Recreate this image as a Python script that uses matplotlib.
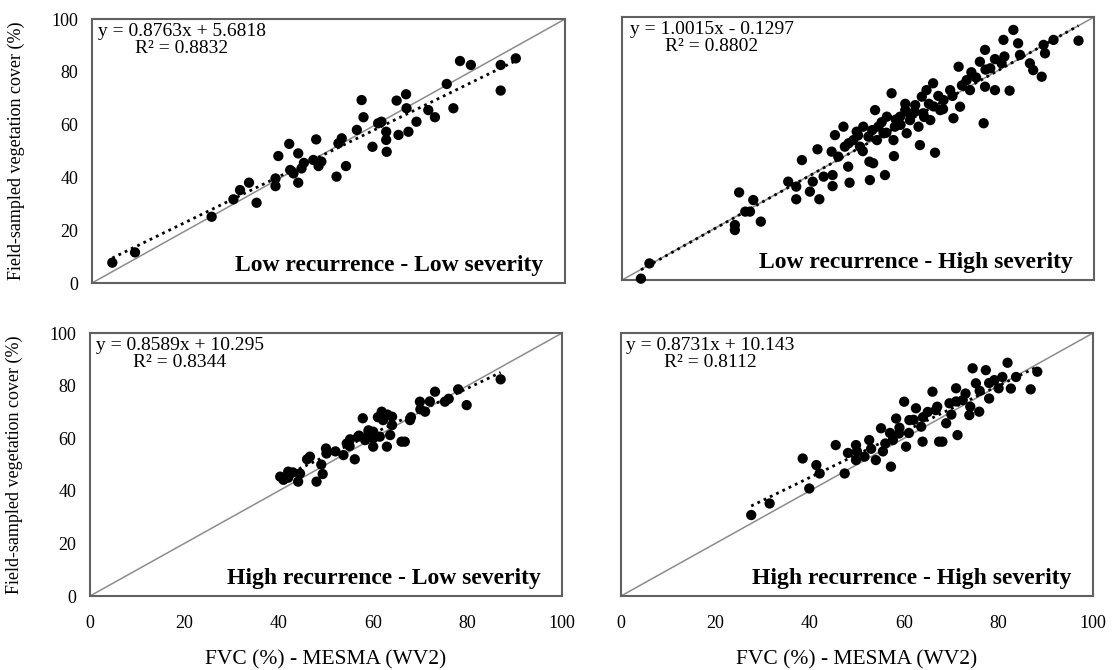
import numpy as np
import matplotlib
matplotlib.use("Agg")
import matplotlib.pyplot as plt

plt.rcParams['font.family'] = ['Liberation Serif', 'DejaVu Serif']

# FVC from MESMA (x) vs field-sampled cover (y), one pair of lists per plot type
lrls_x = [4.3, 9.1, 25.3, 29.9, 31.3, 33.2, 34.8, 38.8, 38.8, 39.4, 41.7, 41.9, 42.6, 43.6,
          43.6, 44.3, 46.8, 47.4, 47.9, 51.7, 52.1, 52.8, 53.7, 56.0, 57.0, 57.4, 59.3, 60.5,
          61.2, 62.2, 62.2, 62.3, 64.4, 64.8, 66.4, 66.5, 66.9, 68.6, 71.1, 72.5, 75.0, 76.4,
          77.8, 80.1, 86.4, 86.4, 89.6, 44.8, 48.5]
lrls_y = [7.7, 11.6, 25.1, 31.7, 35.2, 38.0, 30.4, 39.6, 36.7, 48.1, 52.7, 42.8, 41.5, 49.1,
          38.0, 43.4, 46.6, 54.4, 44.3, 40.3, 52.9, 54.8, 44.3, 58.0, 69.3, 62.8, 51.6, 60.5,
          61.1, 57.3, 54.2, 49.7, 69.1, 56.1, 71.5, 66.2, 57.3, 61.1, 65.5, 62.8, 75.4, 66.2,
          84.1, 82.6, 82.6, 72.9, 85.1, 45.5, 46.0]

lrhs_x = [4.0, 5.8, 23.9, 23.9, 24.8, 26.1, 27.1, 27.8, 29.4, 35.2, 36.9, 36.9, 38.1, 39.8,
          40.4, 41.4, 41.8, 42.7, 44.6, 44.6, 45.1, 44.4, 45.8, 46.9, 47.2, 47.9, 48.2, 49.0,
          49.7, 50.4, 51.1, 52.2, 52.4, 52.5, 53.2, 53.6, 54.0, 54.3, 55.4, 55.7, 56.1, 57.1,
          57.5, 57.6, 57.8, 58.9, 60.0, 60.3, 61.0, 62.1, 62.8, 63.1, 63.5, 63.8, 64.5, 65.3,
          65.9, 66.3, 67.4, 68.1, 69.5, 70.2, 71.3, 71.6, 73.0, 73.7, 75.8, 76.6, 76.9, 76.9,
          78.0, 79.0, 80.4, 80.8, 82.1, 82.9, 83.9, 84.3, 86.4, 87.1, 88.9, 89.3, 89.6, 91.4,
          96.7, 48.0, 50.0, 51.0, 53.0, 55.0, 56.0, 58.0, 59.0, 60.0, 61.0, 62.0, 64.0, 65.0,
          66.0, 67.0, 68.0, 70.0, 72.0, 74.0, 75.0, 77.0, 79.0, 81.0]
lrhs_y = [0.5, 6.3, 19.0, 20.9, 33.3, 26.0, 26.0, 30.4, 22.2, 37.4, 35.5, 30.7, 45.6, 33.6,
          37.4, 49.7, 30.7, 39.3, 39.9, 35.7, 55.1, 48.8, 46.9, 58.3, 50.7, 43.1, 37.0, 53.2,
          56.4, 50.7, 58.3, 54.5, 45.0, 38.0, 44.4, 64.6, 53.2, 58.3, 55.8, 39.9, 62.1, 71.0,
          53.2, 47.1, 58.3, 62.1, 64.6, 55.8, 60.8, 66.5, 58.3, 51.3, 69.7, 63.4, 72.2, 60.8,
          74.8, 48.4, 64.6, 68.4, 72.2, 61.5, 81.1, 65.9, 76.0, 72.2, 83.0, 59.6, 87.5, 73.5,
          80.5, 72.2, 82.4, 91.3, 72.0, 95.1, 90.0, 85.6, 82.4, 79.8, 77.3, 89.4, 86.2, 91.3,
          91.0, 52.0, 55.0, 49.0, 57.0, 60.0, 56.0, 61.0, 59.0, 67.0, 63.0, 64.0, 62.0, 67.0,
          66.0, 70.0, 65.0, 70.0, 74.0, 79.0, 77.0, 80.0, 84.0, 85.0]

hrls_x = [40.3, 41.0, 42.0, 44.1, 44.5, 46.6, 48.0, 49.3, 50.0, 50.1, 53.7, 54.4, 55.1, 56.1,
          56.8, 57.8, 58.3, 59.0, 60.0, 60.0, 61.4, 61.8, 62.1, 62.9, 63.6, 64.0, 66.0, 66.7,
          67.8, 69.9, 71.0, 73.1, 75.2, 78.0, 79.8, 87.0, 42.0, 46.0, 52.0, 55.0, 57.0, 59.0,
          60.0, 61.0, 63.0, 64.0, 68.0, 70.0, 72.0, 76.0, 43.0, 49.0]
hrls_y = [45.4, 44.2, 47.3, 43.5, 46.6, 53.0, 43.5, 46.4, 56.1, 54.2, 53.6, 58.0, 59.6, 52.0,
          60.6, 67.6, 59.3, 61.8, 56.8, 62.5, 60.6, 70.1, 66.9, 56.8, 61.2, 68.2, 58.7, 58.7,
          66.9, 73.9, 70.1, 77.7, 73.9, 78.6, 72.6, 82.4, 45.0, 52.0, 55.0, 57.0, 61.0, 63.0,
          60.0, 68.0, 69.0, 65.0, 68.0, 71.0, 74.0, 75.0, 47.0, 50.0]

hrhs_x = [27.6, 31.5, 38.5, 39.9, 41.4, 42.1, 45.5, 47.4, 48.1, 49.8, 49.8, 51.6, 52.6, 54.0,
          55.1, 55.5, 57.2, 57.6, 58.3, 58.9, 60.0, 60.4, 61.1, 62.5, 63.6, 63.9, 66.0, 66.7,
          67.4, 68.1, 68.9, 69.6, 71.0, 71.3, 72.4, 73.8, 74.5, 75.2, 75.9, 77.3, 78.0, 79.1,
          80.8, 81.9, 82.6, 83.7, 86.8, 88.2, 50.0, 53.0, 56.0, 57.0, 59.0, 61.0, 62.0, 64.0,
          65.0, 67.0, 70.0, 71.0, 73.0, 74.0, 76.0, 78.0, 80.0]
hrhs_y = [30.8, 35.2, 52.3, 40.9, 49.8, 46.6, 57.4, 46.6, 54.4, 57.4, 51.7, 53.0, 59.3, 51.7,
          63.8, 55.0, 49.2, 59.3, 67.5, 61.8, 73.9, 56.8, 66.9, 71.4, 64.4, 58.7, 77.7, 70.7,
          58.7, 58.7, 65.7, 73.3, 79.0, 61.2, 74.5, 68.8, 86.6, 80.9, 70.1, 85.9, 75.1, 82.1,
          83.3, 88.7, 78.9, 83.3, 78.6, 85.3, 55.0, 56.0, 58.0, 62.0, 64.0, 62.0, 67.0, 68.0,
          70.0, 72.0, 69.0, 74.0, 77.0, 72.0, 78.0, 81.0, 79.0]

# fitted trendlines (slope, intercept, R2)
fits = [(0.8763, 5.6818, 0.8832), (1.0015, -0.1297, 0.8802),
        (0.8589, 10.295, 0.8344), (0.8731, 10.143, 0.8112)]
eq_text = ["y = 0.8763x + 5.6818\nR² = 0.8832", "y = 1.0015x - 0.1297\nR² = 0.8802",
           "y = 0.8589x + 10.295\nR² = 0.8344", "y = 0.8731x + 10.143\nR² = 0.8112"]
titles = ["Low recurrence - Low severity", "Low recurrence - High severity",
          "High recurrence - Low severity", "High recurrence - High severity"]
xs = [lrls_x, lrhs_x, hrls_x, hrhs_x]
ys = [lrls_y, lrhs_y, hrls_y, hrhs_y]

fig = plt.figure(figsize=(11.12, 6.7), dpi=100)
rects = [[0.0827, 0.5776, 0.4254, 0.394], [0.5594, 0.5821, 0.4245, 0.3925],
         [0.0809, 0.1104, 0.4245, 0.3925], [0.5584, 0.1104, 0.4245, 0.3925]]

for i in range(4):
    ax = fig.add_axes(rects[i])
    x = np.array(xs[i])
    y = np.array(ys[i])
    # 1:1 line
    ax.plot([0, 100], [0, 100], color='#8c8c8c', lw=1.1, zorder=1)
    ax.scatter(x, y, s=55, color='black', edgecolors='none', zorder=3, clip_on=False)
    m, b, r2 = fits[i]
    xl = np.array([x.min(), x.max()])
    ax.plot(xl, m * xl + b, color='black', ls=(0, (1, 1.5)), lw=2.0, zorder=2)
    ax.text(0.19, 0.985, eq_text[i], transform=ax.transAxes, ha='center', va='top',
            fontsize=14, linespacing=1.0, multialignment='center')
    ax.text(0.955, 0.065, titles[i], transform=ax.transAxes, ha='right', va='center',
            fontsize=17, fontweight='bold')
    ax.set_xlim(0, 100)
    ax.set_ylim(0, 100)
    ax.set_xticks(range(0, 101, 20))
    ax.set_yticks(range(0, 101, 20))
    ax.tick_params(length=0, labelsize=13)
    ax.tick_params(axis='x', pad=14)
    ax.tick_params(axis='y', pad=10)
    for s in ax.spines.values():
        s.set_color('#606060')
        s.set_linewidth(1.5)
    if i % 2 == 1:
        ax.set_yticklabels([])
    else:
        ax.set_ylabel("Field-sampled vegetation cover (%)", fontsize=13)
        ax.yaxis.set_label_coords(-0.142, 0.5)
    if i < 2:
        ax.set_xticklabels([])
    else:
        ax.set_xlabel("FVC (%) - MESMA (WV2)", fontsize=15.5)
        ax.xaxis.set_label_coords(0.5, -0.205)

fig.savefig("out.png", dpi=100)
